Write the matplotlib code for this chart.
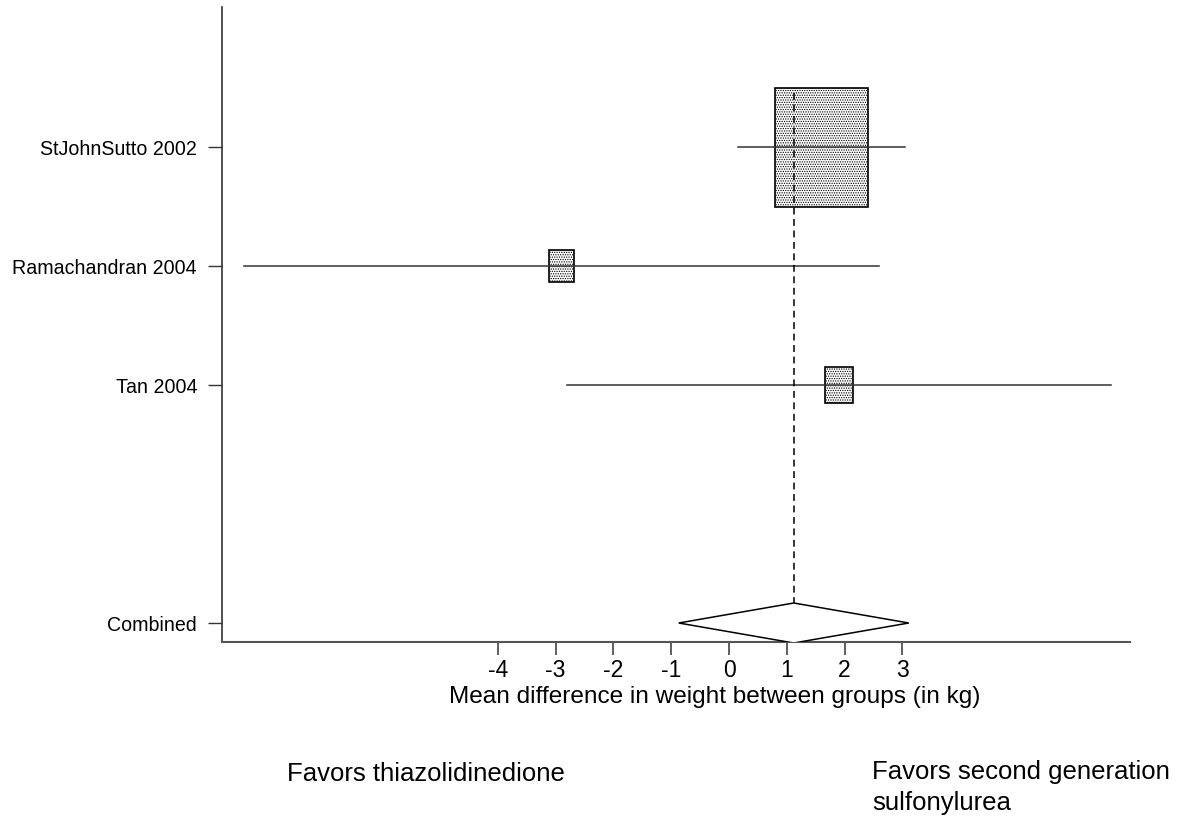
import matplotlib.pyplot as plt
from matplotlib.patches import Rectangle, Polygon
import numpy as np

plt.rcParams['font.family'] = ['Liberation Sans', 'DejaVu Sans']
plt.rcParams['hatch.color'] = '#c4c4c4'
plt.rcParams['hatch.linewidth'] = 0.6

# study estimates (mean difference in kg) with 95% CI
studies = ['StJohnSutto 2002', 'Ramachandran 2004', 'Tan 2004']
means = [1.6, -2.9, 1.9]
lower = [0.16, -8.39, -2.80]
upper = [3.05, 2.60, 6.60]
weights = [85.7, 6.1, 8.2]

pooled_mean = 1.12
pooled_lower = -0.87
pooled_upper = 3.11

xticks = [-4, -3, -2, -1, 0, 1, 2, 3]

rows = [1, 2, 3]
combined_row = 5

fig = plt.figure(figsize=(11.81, 8.16), dpi=100)
ax = fig.add_axes([0.188, 0.2132, 0.769, 0.7782])
ax.set_xlim(-8.77, 6.94)
ax.set_ylim(5.16, -0.18)

# pixels per data unit, used to size the boxes
fig_w, fig_h = fig.get_size_inches() * fig.dpi
bbox = ax.get_position()
px_x = fig_w * bbox.width / (6.94 + 8.77)
px_y = fig_h * bbox.height / (5.16 + 0.18)

for y, m, lo, hi, w in zip(rows, means, lower, upper, weights):
    side = 12.8 * np.sqrt(w)
    bw = 0.78 * side / px_x
    bh = side / px_y
    ax.add_patch(Rectangle((m - bw / 2, y - bh / 2), bw, bh, facecolor='white',
                           edgecolor='black', linewidth=1.2, hatch='.......', zorder=2))
    ax.plot([lo, hi], [y, y], color='#333333', linewidth=1.1, zorder=3)

dh = 20 / px_y
ax.add_patch(Polygon([[pooled_lower, combined_row], [pooled_mean, combined_row - dh],
                      [pooled_upper, combined_row], [pooled_mean, combined_row + dh]],
                     closed=True, facecolor='white', edgecolor='black', linewidth=1.1, zorder=3))

ax.plot([pooled_mean, pooled_mean], [0.54, combined_row - dh], color='black',
        linestyle=(0, (4.5, 3)), linewidth=1.1, zorder=4)

ax.spines['top'].set_visible(False)
ax.spines['right'].set_visible(False)
ax.spines['left'].set_color('#333333')
ax.spines['bottom'].set_color('#555555')
ax.spines['left'].set_linewidth(1.2)
ax.spines['bottom'].set_linewidth(1.5)

ax.set_yticks(rows + [combined_row])
ax.set_yticklabels(studies + ['Combined'], fontsize=14.1)
ax.set_xticks(xticks)
ax.set_xticklabels([str(t) for t in xticks], fontsize=16.5)
ax.tick_params(axis='y', length=10, width=1, color='#333333', pad=8)
ax.tick_params(axis='x', length=9.5, width=1.2, color='#444444', pad=2.5)

fig.text(715 / 1181, 1 - 697 / 816, 'Mean difference in weight between groups (in kg)',
         ha='center', va='center', fontsize=17.6)
fig.text(287 / 1181, 1 - 774 / 816, 'Favors thiazolidinedione',
         ha='left', va='center', fontsize=18.5)
fig.text(872 / 1181, 1 - 760 / 816, 'Favors second generation\nsulfonylurea',
         ha='left', va='top', fontsize=18.5, linespacing=1.35)

fig.savefig('out.png', dpi=100)
